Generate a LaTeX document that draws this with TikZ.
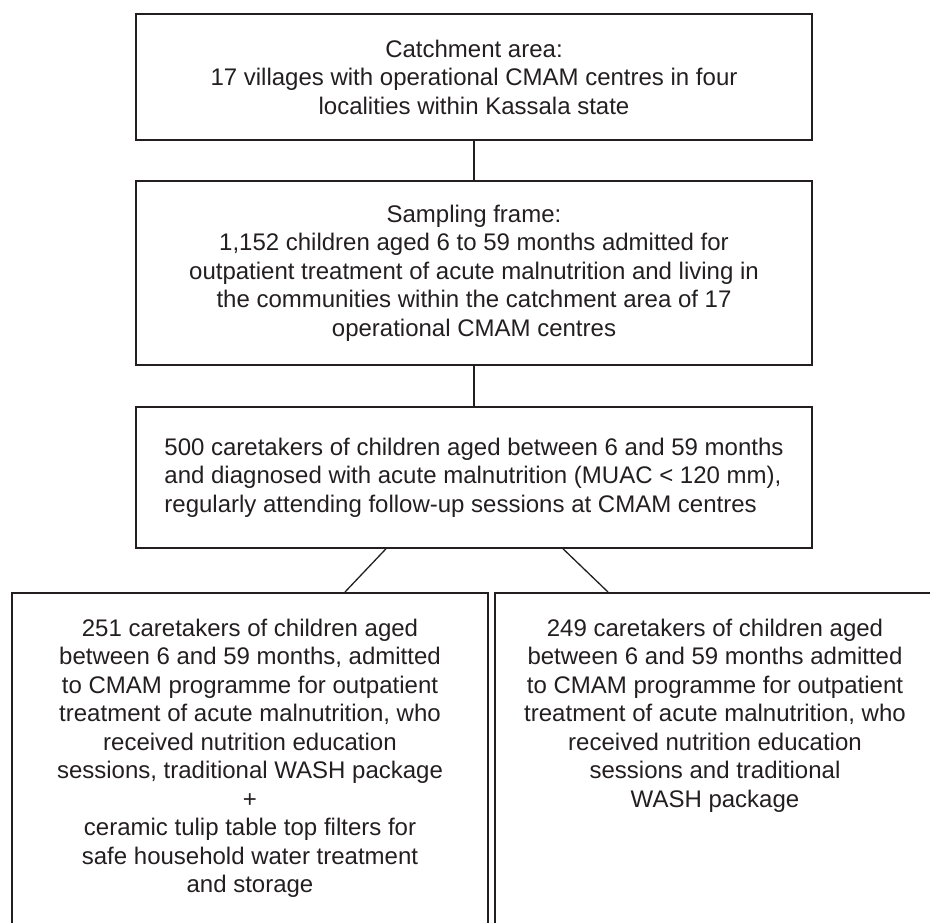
\documentclass[tikz,border=0pt]{standalone}
\usepackage{fontspec}
\setmainfont{Liberation Sans}
\usetikzlibrary{calc}
\definecolor{ink}{HTML}{231F20}

\begin{document}
\begin{tikzpicture}[x=1pt, y=-1pt, line width=1.5pt, draw=ink, text=ink,
    font={\fontsize{24}{28.5}\selectfont},
    box/.style={draw=ink, rectangle, inner sep=0pt, align=center, minimum width=676pt},
    lowbox/.style={draw=ink, rectangle, anchor=north, inner xsep=0pt, inner ysep=26pt,
      align=center, text depth=400pt},
    link/.style={draw=ink, line width=1.3pt}]
  \useasboundingbox (0,0) rectangle (930,922);
  \clip (0,0) rectangle (930,922);
  % upper boxes
  \node[box, minimum height=126pt] (area) at (474,77)
    {Catchment area:\\17 villages with operational CMAM centres in four\\localities within Kassala state};
  \node[box, minimum height=184pt] (frame) at (474,273)
    {Sampling frame:\\1,152 children aged 6 to 59 months admitted for\\outpatient treatment of acute malnutrition and living in\\the communities within the catchment area of 17\\operational CMAM centres};
  \node[box, minimum height=141pt, align=left] (carers) at (474,477.5)
    {500 caretakers of children aged between 6 and 59 months\\and diagnosed with acute malnutrition (MUAC < 120 mm),\\regularly attending follow-up sessions at CMAM centres};
  % the two groups
  \node[lowbox, minimum width=476pt] (filters) at (250,592)
    {251 caretakers of children aged\\between 6 and 59 months, admitted\\to CMAM programme for outpatient\\treatment of acute malnutrition, who\\received nutrition education\\sessions, traditional WASH package\\+\\ceramic tulip table top filters for\\safe household water treatment\\and storage};
  \node[lowbox, minimum width=440pt] (wash) at (715,592)
    {249 caretakers of children aged\\between 6 and 59 months admitted\\to CMAM programme for outpatient\\treatment of acute malnutrition, who\\received nutrition education\\sessions and traditional\\WASH package};
  % connectors
  \draw[link] (area.south) -- (frame.north);
  \draw[link] (frame.south) -- (carers.north);
  \draw[link] ([xshift=-88pt]carers.south) -- ([xshift=95pt]filters.north);
  \draw[link] ([xshift=89pt]carers.south) -- ([xshift=-107pt]wash.north);
\end{tikzpicture}
\end{document}
